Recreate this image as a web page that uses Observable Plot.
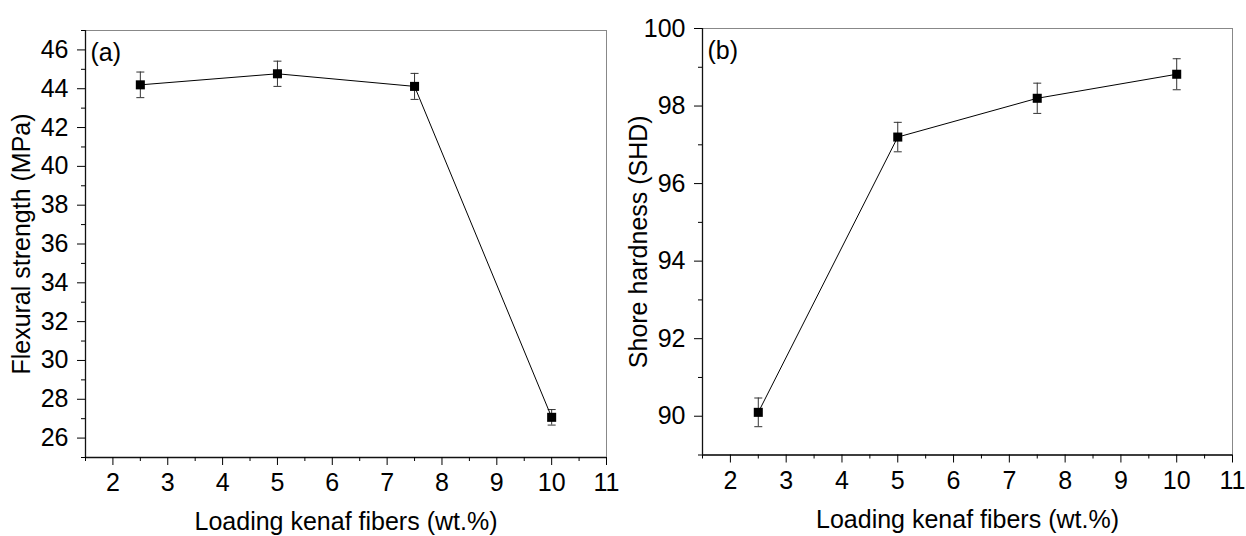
<!DOCTYPE html>
<html>
<head>
<meta charset="utf-8">
<script src="https://cdn.jsdelivr.net/npm/d3@7"></script>
<script src="https://cdn.jsdelivr.net/npm/@observablehq/plot@0.6"></script>
<style>
  html, body { margin: 0; padding: 0; background: #fff; }
  #wrap { display: flex; width: 1246px; height: 536px; }
  svg { font-family: "Liberation Sans", Arial, sans-serif; }
</style>
</head>
<body>
<div id="wrap"></div>
<script>
// ---- data ----
const loading = [2.5, 5, 7.5, 10];
const flexural = [44.2, 44.77, 44.12, 27.07];
const flexuralErr = [0.66, 0.65, 0.67, 0.4];
const hardness = [90.1, 97.2, 98.2, 98.82];
const hardnessErr = [0.37, 0.38, 0.39, 0.4];

const xMajor = [2, 3, 4, 5, 6, 7, 8, 9, 10, 11];
const xMinor = [1.5, 2.5, 3.5, 4.5, 5.5, 6.5, 7.5, 8.5, 9.5, 10.5];
const yMajorA = [26, 28, 30, 32, 34, 36, 38, 40, 42, 44, 46];
const yMinorA = [25, 27, 29, 31, 33, 35, 37, 39, 41, 43, 45, 47];
const yMajorB = [90, 92, 94, 96, 98, 100];
const yMinorB = [89, 91, 93, 95, 97, 99];

const xTitle = "Loading kenaf fibers (wt.%)";
const yTitleA = "Flexural strength (MPa)";
const yTitleB = "Shore hardness (SHD)";

const capSymbol = {
  draw(ctx, size) {
    const r = Math.sqrt(size / Math.PI);
    ctx.moveTo(-r, 0);
    ctx.lineTo(r, 0);
  }
};

function panel({values, errs, yDomain, yMajor, yMinor, yTitle, tag, margins, xLabelOffset, yLabelOffset}) {
  const data = loading.map((x, i) => ({x, y: values[i], lo: values[i] - errs[i], hi: values[i] + errs[i]}));
  return Plot.plot({
    width: 623,
    height: 536,
    ...margins,
    style: {fontFamily: '"Liberation Sans", Arial, sans-serif', fontSize: "25px", color: "#000", background: "#fff", overflow: "visible"},
    x: {domain: [1.5, 11]},
    y: {domain: yDomain},
    marks: [
      Plot.frame({stroke: "#888", strokeWidth: 1}),
      Plot.ruleX([yDomain], {x: () => 1.5, y1: d => d[0], y2: d => d[1], stroke: "#111", strokeWidth: 1.3}),
      Plot.ruleY([yDomain[0]], {stroke: "#111", strokeWidth: 1.3}),
      Plot.axisX(xMajor, {tickSize: 8, tickPadding: 8, fontSize: 25, label: xTitle, labelAnchor: "center", labelOffset: xLabelOffset, labelArrow: "none"}),
      Plot.axisX(xMinor, {tickSize: 4, tickFormat: () => "", label: null}),
      Plot.axisY(yMajor, {tickSize: 8, tickPadding: 9, fontSize: 25, label: yTitle, labelAnchor: "center", labelOffset: yLabelOffset, labelArrow: "none"}),
      Plot.axisY(yMinor, {tickSize: 4, tickFormat: () => "", label: null}),
      Plot.ruleX(data, {x: "x", y1: "lo", y2: "hi", stroke: "#333", strokeWidth: 1}),
      Plot.dot(data, {x: "x", y: "lo", symbol: capSymbol, r: 4, stroke: "#333", strokeWidth: 1}),
      Plot.dot(data, {x: "x", y: "hi", symbol: capSymbol, r: 4, stroke: "#333", strokeWidth: 1}),
      Plot.line(data, {x: "x", y: "y", stroke: "#000", strokeWidth: 1}),
      Plot.dot(data, {x: "x", y: "y", symbol: "square", r: 5.1, fill: "#000", stroke: "none"}),
      Plot.text([tag], {text: d => d, frameAnchor: "top-left", dx: 5, dy: 13, textAnchor: "start", lineAnchor: "top", fontSize: 25, fill: "#000"})
    ]
  });
}

const wrap = document.getElementById("wrap");
wrap.appendChild(panel({
  values: flexural, errs: flexuralErr, yDomain: [25, 47], yMajor: yMajorA, yMinor: yMinorA,
  yTitle: yTitleA, tag: "(a)",
  margins: {marginLeft: 85, marginRight: 17, marginTop: 30, marginBottom: 79},
  xLabelOffset: 72, yLabelOffset: 73
}));
wrap.appendChild(panel({
  values: hardness, errs: hardnessErr, yDomain: [89, 100], yMajor: yMajorB, yMinor: yMinorB,
  yTitle: yTitleB, tag: "(b)",
  margins: {marginLeft: 79, marginRight: 14, marginTop: 28, marginBottom: 81.5},
  xLabelOffset: 73, yLabelOffset: 73
}));
</script>
</body>
</html>
